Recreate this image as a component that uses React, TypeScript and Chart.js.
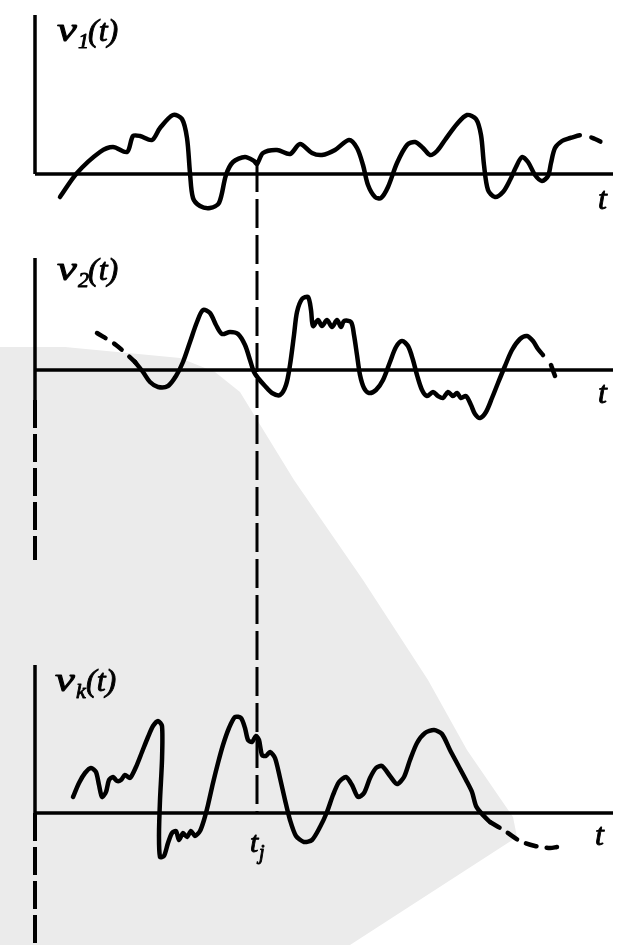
import React, { useEffect, useRef } from "react";
import { Chart, registerables } from "chart.js";

Chart.register(...registerables);

// ---- t axis (t = 0 at the vertical axes) ----
const T_MIN = -3.5;
const T_MAX = 60.1;
const T_END = 57.8;
const TJ = 22.2; // the instant t_j

// ---- sample function v1(t) ----
const v1T = [2.5, 4.2, 6.5, 7.8, 9.2, 9.8, 10.5, 11.7, 12.5, 13.8, 14.7, 15.2, 15.5, 15.8, 16.5, 17.5, 18.4, 19.1, 19.8, 21.0, 21.9, 22.2, 22.8, 24.2, 25.5, 26.5, 27.7, 28.7, 30.0, 31.4, 32.2, 32.8, 33.3, 34.0, 34.6, 35.3, 36.2, 37.2, 38.0, 38.8, 39.5, 40.2, 41.0, 42.2, 43.2, 44.1, 44.6, 44.9, 45.3, 46.0, 46.8, 47.5, 48.1, 48.7, 49.3, 50.0, 50.7, 51.3, 51.6, 52.0, 52.7, 53.5];
const v1V = [-2.3, 0.1, 2.2, 2.7, 2.2, 3.8, 3.8, 3.4, 4.6, 5.9, 5.5, 3.6, 0.1, -2.4, -3.2, -3.4, -2.9, -0.1, 1.2, 1.7, 1.3, 1.0, 2.1, 2.4, 2.0, 3.0, 2.1, 1.9, 2.4, 3.4, 2.6, 0.9, -1.1, -2.3, -2.4, -1.3, 1.1, 2.9, 3.2, 2.6, 1.9, 2.3, 3.4, 5.0, 5.9, 5.5, 3.9, 0.9, -1.6, -2.3, -1.8, -0.6, 0.7, 1.7, 1.2, -0.1, -0.7, -0.2, 1.1, 2.6, 3.3, 3.6];
const v1DashT = [53.5, 54.8, 56.0, 57.0];
const v1DashV = [3.6, 3.9, 3.5, 3.0];

// ---- sample function v2(t) ----
const v2DashT = [6.2, 8.1, 10.0];
const v2DashV = [3.7, 2.5, 0.8];
const v2T = [10.0, 10.8, 11.5, 12.3, 13.3, 14.1, 14.8, 15.5, 16.2, 16.8, 17.5, 18.1, 18.7, 19.5, 20.3, 21.0, 21.5, 21.9, 22.3, 23.0, 23.7, 24.5, 25.1, 25.5, 25.9, 26.2, 26.7, 27.3, 27.6, 27.8, 28.3, 28.7, 29.2, 29.7, 30.2, 30.6, 30.9, 31.6, 31.9, 32.2, 32.5, 32.9, 33.4, 34.1, 34.8, 35.5, 36.1, 36.7, 37.3, 37.8, 38.2, 38.7, 39.2, 39.8, 40.3, 40.8, 41.3, 41.8, 42.2, 42.6, 43.1, 43.6, 44.0, 44.5, 45.1, 45.7, 46.3, 47.0, 47.7, 48.5, 49.2, 49.8, 50.3, 50.8];
const v2V = [0.8, -0.2, -1.2, -1.7, -1.6, -0.6, 0.8, 2.8, 4.8, 6.0, 5.7, 4.5, 3.6, 3.8, 3.6, 2.5, 1.0, -0.2, -0.8, -1.6, -2.3, -2.5, -1.5, 0.5, 3.5, 5.8, 7.1, 7.3, 6.0, 4.4, 5.0, 4.4, 5.0, 4.3, 5.0, 4.3, 4.9, 4.8, 3.5, 1.5, -0.5, -1.8, -2.3, -2.0, -1.0, 0.8, 2.3, 2.9, 2.4, 1.0, -0.5, -2.0, -2.6, -2.2, -2.6, -2.8, -2.2, -2.6, -2.3, -2.8, -2.6, -3.5, -4.4, -4.8, -4.2, -2.8, -1.3, 0.4, 2.0, 3.1, 3.4, 2.9, 2.1, 1.5];
const v2TickT = [51.6, 52.0];
const v2TickV = [0.5, -0.6];

// ---- sample function vk(t) ----
const vkT = [3.8, 4.4, 5.0, 5.6, 6.1, 6.4, 6.7, 7.1, 7.4, 7.8, 8.2, 8.6, 9.0, 9.5, 10.1, 10.7, 11.3, 11.8, 12.3, 12.7, 12.7, 12.5, 12.4, 12.5, 12.9, 13.3, 13.7, 14.1, 14.4, 14.8, 15.2, 15.6, 16.0, 16.5, 16.9, 17.3, 17.8, 18.3, 18.8, 19.4, 20.0, 20.6, 21.0, 21.3, 21.7, 22.1, 22.4, 22.7, 23.1, 23.5, 24.0, 24.5, 25.0, 25.5, 26.1, 26.9, 27.7, 28.5, 29.2, 29.8, 30.4, 31.1, 31.7, 32.3, 32.9, 33.5, 34.1, 34.7, 35.5, 36.2, 36.9, 37.5, 38.2, 39.0, 39.9, 40.7, 41.5, 42.3, 43.1, 43.7, 44.1, 44.7, 45.5];
const vkV = [1.6, 3.0, 4.0, 4.5, 4.1, 2.8, 1.6, 2.1, 3.3, 3.6, 3.2, 3.3, 3.8, 3.5, 4.6, 6.1, 7.6, 8.7, 9.2, 8.7, 5.3, 1.3, -2.2, -4.4, -4.3, -3.0, -2.0, -1.8, -2.7, -2.0, -2.4, -1.8, -2.3, -1.8, -0.7, 0.8, 3.0, 5.0, 6.8, 8.5, 9.6, 9.5, 8.5, 7.3, 7.1, 7.7, 7.3, 5.8, 5.7, 6.1, 5.5, 3.5, 1.3, -0.7, -2.3, -2.9, -2.7, -1.4, 0.1, 1.8, 3.1, 3.6, 2.8, 1.6, 2.0, 3.5, 4.5, 4.7, 3.7, 2.9, 3.6, 5.3, 7.0, 8.0, 8.3, 7.9, 6.3, 4.8, 3.3, 2.1, 0.7, -0.1, -0.9];
const vkDashT = [45.5, 47.0, 48.5, 50.0, 51.5, 52.2];
const vkDashV = [-0.9, -1.8, -2.8, -3.3, -3.5, -3.4];

// ---- texts ----
const SUBSCRIPTS = ["1", "2", "k"];
const AXIS_LABEL = "t";
const TJ_LABEL = ["t", "j"];

// ---- layout of the three panels (vertical offsets in value units) ----
const Y_MIN = -94.5;
const Y_MAX = 0;
const PANEL_OFF = [-17.4, -37.0, -81.3];
const AXIS_TOP = [15.9, 11.2, 14.8];
const AXIS_SOLID_BOTTOM = [0, -3.0, 0];
const AXIS_DASH_BOTTOM = [0, -19.0, -13.2];
const LABEL_POS = [[2.2, 13.3], [2.2, 9.0], [2.0, 12.2]];
const T_LABEL_POS = [[56.3, -3.5], [56.3, -3.3], [56.0, -3.2]];
const TJ_TOP_V = 1.1;
const TJ_LABEL_POS = [21.5, -3.9];

// light watermark area (t, absolute value units)
const SHADE_T = [-3.5, 3.0, 14.5, 18.0, 20.5, 25.9, 32.8, 39.3, 43.2, 47.8, 48.2, 31.5, -3.5];
const SHADE_Y = [-34.7, -34.7, -35.8, -37.2, -39.2, -48.0, -58.0, -68.0, -75.0, -81.7, -83.7, -94.5, -94.5];

const pts = (ts: number[], vs: number[], off: number) => ts.map((t, i) => ({ x: t, y: vs[i] + off }));

const SERIF = '"Liberation Serif", "Times New Roman", "DejaVu Serif", serif';

export default function App() {
  const ref = useRef<HTMLCanvasElement | null>(null);

  useEffect(() => {
    if (!ref.current) return;
    const curve = (data: any[], dash: number[] = []) => ({
      data,
      borderColor: "#000",
      borderWidth: 4.5,
      borderDash: dash,
      tension: 0.3,
      pointRadius: 0,
      fill: false,
      borderCapStyle: "round",
      borderJoinStyle: "round",
    });
    const axisLine = (data: any[], dash: number[] = [], w = 3.5) => ({
      data,
      borderColor: "#000",
      borderWidth: w,
      borderDash: dash,
      tension: 0,
      pointRadius: 0,
      fill: false,
      borderCapStyle: "butt",
    });

    const datasets: any[] = [];
    PANEL_OFF.forEach((off, i) => {
      datasets.push(axisLine([{ x: 0, y: off }, { x: T_END, y: off }]));
      datasets.push(axisLine([{ x: 0, y: off + AXIS_TOP[i] }, { x: 0, y: off + AXIS_SOLID_BOTTOM[i] }]));
      if (AXIS_DASH_BOTTOM[i] < AXIS_SOLID_BOTTOM[i]) {
        datasets.push(axisLine([{ x: 0, y: off + AXIS_SOLID_BOTTOM[i] }, { x: 0, y: off + AXIS_DASH_BOTTOM[i] }], [28, 6], 4));
      }
    });
    datasets.push(axisLine([{ x: TJ, y: PANEL_OFF[0] + TJ_TOP_V }, { x: TJ, y: PANEL_OFF[2] }], [29, 7], 3));

    datasets.push(curve(pts(v1T, v1V, PANEL_OFF[0])));
    datasets.push(curve(pts(v1DashT, v1DashV, PANEL_OFF[0]), [10, 12]));
    datasets.push(curve(pts(v2DashT, v2DashV, PANEL_OFF[1]), [10, 10]));
    datasets.push(curve(pts(v2T, v2V, PANEL_OFF[1])));
    datasets.push(curve(pts(v2TickT, v2TickV, PANEL_OFF[1])));
    datasets.push({ ...curve(pts(vkT, vkV, PANEL_OFF[2])), tension: 0.25 });
    datasets.push(curve(pts(vkDashT, vkDashV, PANEL_OFF[2]), [11, 10]));

    const shadePlugin = {
      id: "shade",
      beforeDatasetsDraw(chart: any) {
        const { ctx, scales } = chart;
        ctx.save();
        ctx.fillStyle = "#ebebeb";
        ctx.beginPath();
        SHADE_T.forEach((t, i) => {
          const x = scales.x.getPixelForValue(t);
          const y = scales.y.getPixelForValue(SHADE_Y[i]);
          if (i === 0) ctx.moveTo(x, y);
          else ctx.lineTo(x, y);
        });
        ctx.closePath();
        ctx.fill();
        ctx.restore();
      },
    };

    const text = (ctx: any, s: string, x: number, y: number, font: string) => {
      ctx.font = font;
      ctx.fillText(s, x, y);
      ctx.strokeText(s, x, y);
    };

    const textPlugin = {
      id: "labels",
      afterDatasetsDraw(chart: any) {
        const { ctx, scales } = chart;
        ctx.save();
        ctx.fillStyle = "#000";
        ctx.strokeStyle = "#000";
        ctx.lineWidth = 0.9;
        ctx.lineJoin = "round";
        ctx.textBaseline = "alphabetic";
        ctx.textAlign = "left";
        PANEL_OFF.forEach((off, i) => {
          const x = scales.x.getPixelForValue(LABEL_POS[i][0]);
          const y = scales.y.getPixelForValue(off + LABEL_POS[i][1]);
          ctx.save();
          ctx.translate(x, y);
          ctx.scale(1.35, 1);
          text(ctx, "v", 0, 0, `italic 33px ${SERIF}`);
          ctx.restore();
          text(ctx, SUBSCRIPTS[i], x + 21, y + 7, `italic 22px ${SERIF}`);
          text(ctx, "(" + AXIS_LABEL + ")", x + 31, y, `italic 32px ${SERIF}`);
          const tx = scales.x.getPixelForValue(T_LABEL_POS[i][0]);
          const ty = scales.y.getPixelForValue(off + T_LABEL_POS[i][1]);
          text(ctx, AXIS_LABEL, tx, ty, `italic 32px ${SERIF}`);
        });
        const jx = scales.x.getPixelForValue(TJ_LABEL_POS[0]);
        const jy = scales.y.getPixelForValue(PANEL_OFF[2] + TJ_LABEL_POS[1]);
        text(ctx, TJ_LABEL[0], jx, jy, `italic 30px ${SERIF}`);
        text(ctx, TJ_LABEL[1], jx + 9, jy + 7, `italic 20px ${SERIF}`);
        ctx.restore();
      },
    };

    const chart = new Chart(ref.current, {
      type: "line",
      data: { datasets },
      options: {
        animation: false,
        responsive: false,
        events: [],
        layout: { padding: 0 },
        scales: {
          x: { type: "linear", min: T_MIN, max: T_MAX, display: false },
          y: { type: "linear", min: Y_MIN, max: Y_MAX, display: false },
        },
        plugins: { legend: { display: false }, tooltip: { enabled: false } },
      },
      plugins: [shadePlugin, textPlugin],
    } as any);
    return () => chart.destroy();
  }, []);

  return (
    <div style={{ position: "absolute", left: 0, top: 0, width: 636, height: 945, background: "#fff" }}>
      <canvas ref={ref} width={636} height={945} style={{ display: "block", width: 636, height: 945 }} />
    </div>
  );
}
